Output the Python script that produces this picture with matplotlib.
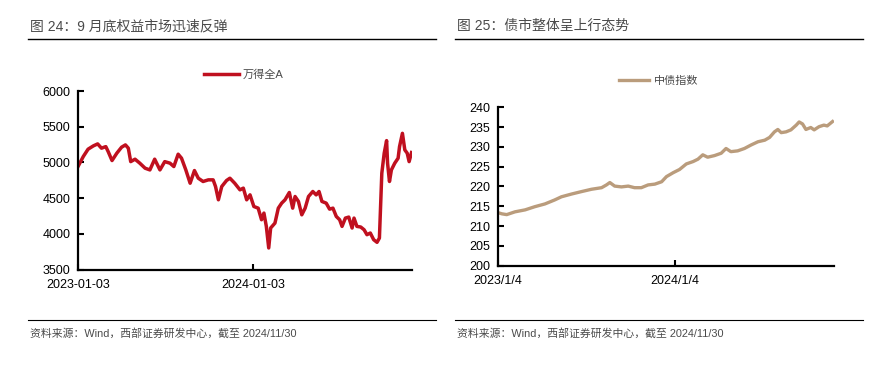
import pandas as pd
import matplotlib
matplotlib.use("Agg")
import matplotlib.pyplot as plt
from matplotlib.lines import Line2D

plt.rcParams['font.family'] = ['Liberation Sans', 'Noto Sans CJK SC', 'DejaVu Sans']

# 万得全A
eq_dates = ["2023-01-03", "2023-01-14", "2023-01-24", "2023-02-04", "2023-02-13", "2023-02-21",
            "2023-03-02", "2023-03-07", "2023-03-15", "2023-03-25", "2023-04-04", "2023-04-12",
            "2023-04-18", "2023-04-23", "2023-05-02", "2023-05-12", "2023-05-23", "2023-06-02",
            "2023-06-12", "2023-06-23", "2023-07-03", "2023-07-14", "2023-07-22", "2023-07-31",
            "2023-08-07", "2023-08-16", "2023-08-25", "2023-09-03", "2023-09-11", "2023-09-21",
            "2023-10-02", "2023-10-12", "2023-10-17", "2023-10-23", "2023-10-30", "2023-11-09",
            "2023-11-16", "2023-11-26", "2023-12-07", "2023-12-14", "2023-12-21", "2023-12-28",
            "2024-01-05", "2024-01-14", "2024-01-21", "2024-01-26", "2024-01-31", "2024-02-05",
            "2024-02-09", "2024-02-18", "2024-02-25", "2024-03-03", "2024-03-10", "2024-03-19",
            "2024-03-26", "2024-03-31", "2024-04-07", "2024-04-14", "2024-04-21", "2024-04-28",
            "2024-05-07", "2024-05-14", "2024-05-20", "2024-05-26", "2024-06-04", "2024-06-11",
            "2024-06-18", "2024-06-25", "2024-07-02", "2024-07-07", "2024-07-14", "2024-07-21",
            "2024-07-28", "2024-08-01", "2024-08-07", "2024-08-15", "2024-08-22", "2024-08-28",
            "2024-09-04", "2024-09-11", "2024-09-18", "2024-09-23", "2024-09-28", "2024-10-03",
            "2024-10-08", "2024-10-10", "2024-10-14", "2024-10-18", "2024-10-25", "2024-11-01",
            "2024-11-04", "2024-11-10", "2024-11-15", "2024-11-20", "2024-11-24", "2024-11-29"]
eq_vals = [4943, 5083, 5186, 5232, 5260, 5200,
           5222, 5152, 5027, 5130, 5214, 5246,
           5200, 5012, 5046, 4990, 4920, 4896,
           5046, 4896, 5012, 4990, 4943, 5116,
           5060, 4896, 4710, 4887, 4780, 4734,
           4757, 4757, 4664, 4478, 4664, 4748,
           4780, 4710, 4617, 4641, 4478, 4547,
           4384, 4361, 4199, 4292, 4106, 3804,
           4083, 4152, 4361, 4431, 4478, 4580,
           4361, 4524, 4455, 4268, 4361, 4524,
           4594, 4547, 4594, 4455, 4431, 4347,
           4361, 4245, 4199, 4106, 4222, 4236,
           4083, 4222, 4106, 4097, 4059, 3990,
           4013, 3920, 3883, 3943, 4850, 5130,
           5306, 4990, 4734, 4896, 4990, 5060,
           5222, 5408, 5176, 5130, 5012, 5139]

# 中债指数
bd_dates = ["2023-01-04", "2023-01-12", "2023-01-22", "2023-02-08", "2023-03-01", "2023-03-21",
            "2023-04-11", "2023-05-01", "2023-05-15", "2023-06-05", "2023-06-25", "2023-07-16",
            "2023-08-06", "2023-08-16", "2023-08-23", "2023-09-02", "2023-09-16", "2023-09-30",
            "2023-10-13", "2023-10-27", "2023-11-10", "2023-11-24", "2023-12-08", "2023-12-18",
            "2024-01-01", "2024-01-14", "2024-01-28", "2024-02-11", "2024-02-21", "2024-03-02",
            "2024-03-12", "2024-03-26", "2024-04-09", "2024-04-19", "2024-04-29", "2024-05-13",
            "2024-05-27", "2024-06-10", "2024-06-24", "2024-07-08", "2024-07-18", "2024-07-28",
            "2024-08-04", "2024-08-11", "2024-08-21", "2024-08-31", "2024-09-11", "2024-09-17",
            "2024-09-24", "2024-10-01", "2024-10-11", "2024-10-18", "2024-10-28", "2024-11-07",
            "2024-11-14", "2024-11-21", "2024-11-25"]
bd_vals = [213.4, 213.1, 212.9, 213.6, 214.1, 214.9,
           215.6, 216.6, 217.4, 218.1, 218.7, 219.3,
           219.7, 220.4, 221.0, 220.1, 219.9, 220.1,
           219.7, 219.7, 220.4, 220.6, 221.2, 222.5,
           223.5, 224.3, 225.7, 226.3, 226.9, 228.0,
           227.4, 227.8, 228.4, 229.6, 228.8, 229.0,
           229.6, 230.5, 231.3, 231.7, 232.4, 233.8,
           234.4, 233.6, 233.8, 234.3, 235.5, 236.3,
           235.8, 234.4, 234.9, 234.3, 235.1, 235.5,
           235.3, 236.0, 236.4]

eq_ticks = ["2023-01-03", "2024-01-03"]
eq_ticklabels = ["2023-01-03", "2024-01-03"]
bd_ticks = ["2023-01-04", "2024-01-04"]
bd_ticklabels = ["2023/1/4", "2024/1/4"]

red = '#C0101F'
tan = '#BA9C7C'
gray = '#4a4a4a'

fig = plt.figure(figsize=(8.92, 3.79), dpi=100)
W, H = 892, 379


def fx(px):
    return px / W


def fy(py):
    return 1 - py / H


def style(ax):
    for s in ['top', 'right']:
        ax.spines[s].set_visible(False)
    for s in ['left', 'bottom']:
        ax.spines[s].set_linewidth(1.6)
    ax.tick_params(direction='in', length=4, width=1.5, labelsize=9, colors='black')
    ax.tick_params(axis='y', pad=5.5)
    ax.tick_params(axis='x', pad=6.5)


# left panel
ax1 = fig.add_axes([fx(78), fy(269.7), fx(412 - 78), (269.7 - 91) / H])
ax1.plot(pd.to_datetime(eq_dates), eq_vals, color=red, lw=2.5, label='万得全A')
ax1.set_ylim(3500, 6000)
ax1.set_yticks(range(3500, 6001, 500))
ax1.set_xlim(pd.Timestamp("2023-01-03"), pd.Timestamp("2024-11-30"))
ax1.set_xticks(pd.to_datetime(eq_ticks))
ax1.set_xticklabels(eq_ticklabels)
style(ax1)
leg = ax1.legend(loc='center', bbox_to_anchor=(0.495, 1.09), frameon=False, fontsize=8,
                 handlelength=3.2, handletextpad=0.3, labelcolor=gray)
for t in leg.get_texts():
    t.set_fontweight('light')

# right panel
ax2 = fig.add_axes([fx(498), fy(265.7), fx(834 - 498), (265.7 - 107.3) / H])
ax2.plot(pd.to_datetime(bd_dates), bd_vals, color=tan, lw=2.4, label='中债指数')
ax2.set_ylim(200, 240)
ax2.set_yticks(range(200, 241, 5))
ax2.set_xlim(pd.Timestamp("2023-01-04"), pd.Timestamp("2024-11-28"))
ax2.set_xticks(pd.to_datetime(bd_ticks))
ax2.set_xticklabels(bd_ticklabels)
style(ax2)
leg = ax2.legend(loc='center', bbox_to_anchor=(0.478, 1.168), frameon=False, fontsize=8,
                 handlelength=2.7, handletextpad=0.5, labelcolor=gray)
for t in leg.get_texts():
    t.set_fontweight('light')

# titles, rules and source notes
fig.text(fx(30), fy(26), '图 24：9 月底权益市场迅速反弹', fontsize=10, color=gray,
         va='center', fontweight='light')
fig.text(fx(457), fy(26), '图 25：债市整体呈上行态势', fontsize=10, color=gray,
         va='center', fontweight='light')
for x0, x1 in [(28, 436), (455, 863)]:
    fig.add_artist(Line2D([fx(x0), fx(x1)], [fy(39.3), fy(39.3)], color='black', lw=1.0))
    fig.add_artist(Line2D([fx(x0), fx(x1)], [fy(320.3), fy(320.3)], color='black', lw=0.8))
source = '资料来源：Wind，西部证券研发中心，截至 2024/11/30'
fig.text(fx(30), fy(333.5), source, fontsize=7.8, color=gray, va='center', fontweight='light')
fig.text(fx(457), fy(333.5), source, fontsize=7.8, color=gray, va='center', fontweight='light')

fig.savefig('out.png', dpi=100)
